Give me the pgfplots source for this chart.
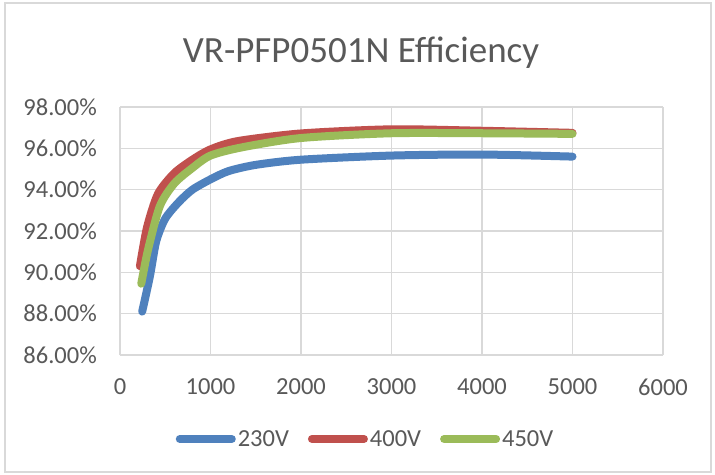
\documentclass[border=0pt]{standalone}
\usepackage{fontspec}
\setmainfont{Carlito}
\usepackage{pgfplots}
\pgfplotsset{compat=1.18}
\definecolor{xblue}{HTML}{4F81BD}
\definecolor{xred}{HTML}{C0504D}
\definecolor{xgreen}{HTML}{9BBB59}
\definecolor{txt}{HTML}{595959}
\definecolor{grd}{HTML}{D9D9D9}
\begin{document}
\begin{tikzpicture}[x=1bp,y=1bp]
\useasboundingbox (0,0) rectangle (715,-475);
\fill[white] (0,0) rectangle (715,-475);
\draw[grd,line width=1.2bp] (5,-3) rectangle (711,-472);
\node[text=txt,font=\fontsize{37bp}{41bp}\selectfont] at (361,-53) {VR-PFP0501N Efficiency};
\begin{axis}[
  at={(120bp,-355bp)}, anchor=south west,
  scale only axis, width=543bp, height=248bp,
  xmin=0, xmax=6000, ymin=86, ymax=98,
  xtick={0,1000,...,6000},
  ytick={86,88,...,98},
  yticklabels={86.00\%,88.00\%,90.00\%,92.00\%,94.00\%,96.00\%,98.00\%},
  xticklabels={0,1000,2000,3000,4000,5000,6000},
  scaled x ticks=false,
  grid=major,
  major grid style={grd,line width=1.5bp},
  axis line style={draw=none},
  tick style={draw=none},
  ticklabel style={text=txt,font=\fontsize{24.5bp}{28bp}\selectfont,inner sep=0pt},
  yticklabel style={anchor=east,xshift=-23bp},
  xticklabel style={anchor=center,yshift=-32bp},
  legend style={at={(0.4503,-0.3387)},anchor=center,draw=none,fill=none,
    font=\fontsize{24.5bp}{28bp}\selectfont,text=txt,
    legend cell align=left,
    nodes={inner sep=0pt},
    /tikz/every even column/.append style={column sep=19bp},
    /tikz/every odd column/.append style={column sep=2bp},
    inner sep=0pt},
  legend columns=3,
  legend image code/.code={\draw[#1,line cap=round] (0bp,0bp) -- (52bp,0bp);},
  every axis plot/.append style={line width=8bp, line cap=round, smooth, tension=0.45},
]
\addplot[xblue] coordinates {(245,88.1)(330,89.8)(400,91.5)(500,92.6)(650,93.4)(800,94.0)(1000,94.5)(1200,94.9)(1500,95.2)(2000,95.45)(3000,95.65)(4000,95.7)(5000,95.6)};
\addplot[xred] coordinates {(220,90.3)(300,92.2)(420,93.8)(600,94.8)(800,95.45)(1000,95.95)(1300,96.35)(2000,96.72)(3000,96.92)(4000,96.85)(5000,96.75)};
\addplot[xgreen] coordinates {(235,89.45)(310,91.1)(440,93.2)(600,94.3)(800,95.05)(1000,95.65)(1350,96.05)(2000,96.5)(3000,96.73)(4000,96.73)(5000,96.7)};
\legend{230V,400V,450V}
\end{axis}
\end{tikzpicture}
\end{document}
